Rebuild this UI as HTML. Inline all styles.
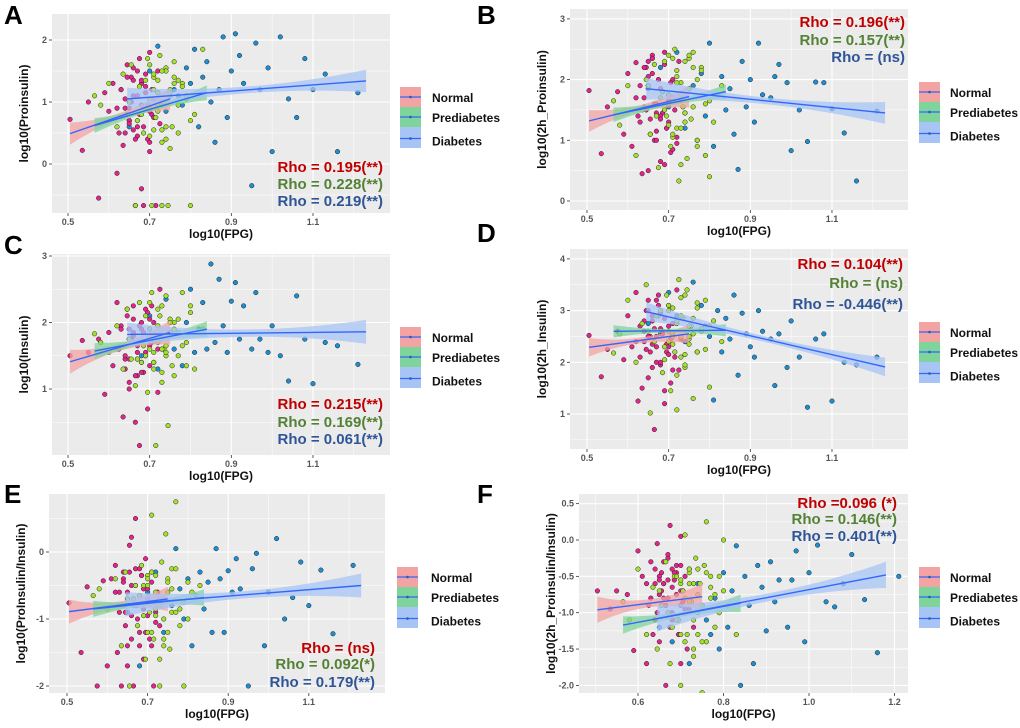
<!DOCTYPE html>
<html><head><meta charset="utf-8"><style>
html,body{margin:0;padding:0;background:#fff}
svg{display:block;font-family:"Liberation Sans",sans-serif}
</style></head><body>
<svg id="fig" width="1020" height="728" viewBox="0 0 1020 728"></svg>
<script>
// ---------- data ----------
const groups = ["Normal","Prediabetes","Diabetes"];
const xNormal = [0.505,0.535,0.55,0.575,0.59,0.60,0.61,0.62,0.625,0.63,0.635,0.64,0.645,0.65,0.655,0.66,0.665,0.67,0.675,0.68,0.685,0.69,0.695,0.70,0.705,0.71,0.715,0.72,0.725,0.73,0.66,0.67,0.68,0.69,0.70,0.65];
const xPre = [0.565,0.58,0.60,0.62,0.635,0.645,0.655,0.665,0.675,0.685,0.695,0.70,0.705,0.71,0.715,0.72,0.725,0.73,0.735,0.74,0.745,0.75,0.755,0.76,0.77,0.78,0.79,0.80,0.81,0.83,0.70,0.71,0.72,0.73,0.74,0.75];
const xDiab = [0.65,0.68,0.70,0.72,0.74,0.76,0.77,0.78,0.79,0.80,0.81,0.82,0.83,0.84,0.85,0.86,0.87,0.88,0.89,0.90,0.91,0.92,0.93,0.95,0.96,0.97,0.99,1.00,1.02,1.04,1.06,1.08,1.10,1.13,1.16,1.21];
const xNormal2 = [0.62,0.63,0.64,0.645,0.65,0.655,0.66,0.665,0.67,0.675,0.68,0.685,0.69,0.695,0.70,0.705,0.71,0.64,0.66,0.68,0.70,0.72,0.65,0.67];
const xPre2 = [0.65,0.67,0.69,0.70,0.71,0.72,0.73,0.74,0.75,0.76,0.77,0.78,0.68,0.70,0.72,0.74,0.76,0.79,0.80,0.71,0.73,0.75,0.69,0.77];

const yA_N=[0.72,0.22,1.0,-0.55,1.15,0.85,1.3,-0.15,0.5,1.2,0.3,0.9,1.6,0.7,1.4,1.1,-0.67,0.6,1.7,0.95,-0.67,1.25,0.4,1.8,0.8,1.05,-0.67,1.5,0.65,1.0,1.35,0.45,-0.4,1.15,0.2,0.9];
const yA_P=[1.1,0.95,1.3,0.6,1.45,0.8,1.6,-0.67,1.25,0.5,1.7,0.9,-0.67,1.4,0.75,1.15,1.75,0.35,1.0,1.55,-0.67,1.2,0.6,1.65,0.95,1.3,1.1,-0.67,0.8,1.85,1.05,0.55,1.35,-0.67,1.5,0.25];
const yA_D=[0.6,1.3,1.5,1.9,0.85,1.2,1.1,0.95,1.55,1.3,1.85,0.6,1.4,1.65,1.0,0.35,1.2,2.05,0.75,1.5,2.1,1.75,1.3,-0.35,1.95,1.2,1.55,0.2,2.05,1.05,0.75,1.7,1.2,1.45,0.2,1.15];
const yA_N2=[0.9,1.2,0.5,1.4,0.7,1.0,1.55,0.4,1.1,0.8,1.3,0.6,1.45,0.95,0.35,1.2,0.75,1.05,0.55,1.35,0.85,1.15,0.65,1.5];
const yA_P2=[1.0,0.7,1.35,0.45,1.2,0.85,1.5,0.6,1.1,1.4,0.5,1.25,0.8,1.6,0.95,0.4,1.3,1.05,0.7,1.45,0.55,1.15,0.9,1.35];
const yB_N=[1.82,0.78,1.55,1.8,1.1,2.1,0.9,2.28,1.4,1.9,0.45,1.7,2.2,0.5,1.35,2.4,1.0,1.6,2.0,0.65,1.45,2.45,1.2,1.75,0.8,2.0,1.5,0.95,2.3,1.65,2.35,1.15,1.85,0.6,1.3,2.05];
const yB_P=[1.65,1.25,1.9,0.75,1.5,2.0,1.1,2.25,0.55,1.8,1.4,2.4,0.9,1.7,2.5,1.2,0.33,1.95,1.55,2.3,0.7,1.85,1.35,2.45,1.0,2.2,1.6,0.4,1.3,1.9,1.75,1.05,2.15,0.6,1.45,2.35];
const yB_D=[1.85,2.2,1.55,2.45,1.2,1.9,1.0,2.1,1.4,2.6,0.9,1.75,2.05,1.5,1.85,1.1,0.52,2.3,1.55,2.0,1.3,2.6,1.75,1.7,2.05,2.25,1.95,0.83,1.5,0.98,1.96,1.95,1.52,1.12,0.33,1.48];
const yB_N2=[1.7,1.3,2.2,1.5,1.9,1.1,2.35,1.6,1.0,2.0,1.4,1.8,2.25,1.2,1.65,1.95,0.85,1.55,2.1,1.35,1.75,1.05,2.3,1.45];
const yB_P2=[1.9,1.4,2.3,1.6,1.1,2.05,1.75,1.3,2.4,1.55,0.9,2.15,1.7,1.25,1.95,1.45,2.2,0.75,1.65,2.35,1.2,1.85,1.5,2.0];
const yC_N=[1.5,1.73,1.55,1.75,0.92,1.85,1.35,2.3,1.6,1.95,0.58,1.45,2.2,1.0,1.7,2.05,0.5,1.55,0.15,1.9,1.25,2.2,0.7,1.65,2.25,1.4,1.8,0.95,2.5,1.6,1.85,1.2,2.0,1.5,1.75,1.1];
const yC_P=[1.83,1.7,1.55,1.95,1.3,2.2,1.45,1.05,2.3,1.65,0.95,1.9,2.45,1.4,0.15,1.75,2.1,1.25,1.6,2.4,0.45,1.85,1.35,2.0,1.5,2.45,1.7,2.25,1.3,1.9,1.8,1.55,2.2,1.1,1.65,2.05];
const yC_D=[1.75,1.5,2.1,1.3,2.35,1.6,1.85,1.35,2.0,2.5,1.55,1.9,2.3,1.6,2.88,1.7,2.65,1.95,1.55,2.32,2.6,1.75,2.25,1.6,2.45,1.75,1.55,1.95,1.5,1.12,2.4,1.75,1.08,1.7,1.65,1.37];
const yC_N2=[1.6,1.9,1.3,2.1,1.45,1.75,2.25,1.2,1.65,1.95,1.4,1.85,1.55,2.15,1.35,1.7,2.0,1.5,1.8,1.25,2.05,1.6,1.9,1.45];
const yC_P2=[1.75,1.45,2.1,1.6,1.3,1.95,2.25,1.5,1.85,1.2,2.05,1.65,1.4,2.3,1.7,1.55,1.9,1.35,2.15,1.8,1.6,2.0,1.5,1.85];
const yD_N=[2.52,1.72,2.25,2.6,2.05,2.9,2.3,3.35,1.25,2.7,1.5,2.4,3.0,1.7,2.2,2.8,0.7,2.5,3.3,1.95,2.6,1.2,2.35,3.1,1.6,2.75,2.1,3.4,1.85,2.45,2.9,2.0,2.65,1.45,2.3,3.2];
const yD_P=[2.18,2.55,3.2,2.0,2.75,3.5,1.02,2.4,2.9,1.8,3.3,2.6,1.45,3.05,2.2,1.08,3.6,2.5,2.85,1.9,3.4,2.35,2.7,1.3,3.15,2.6,2.25,1.52,2.8,2.4,3.0,2.55,1.75,3.25,2.15,2.7];
const yD_D=[2.75,2.55,3.35,2.9,2.4,3.55,2.2,3.1,2.7,2.5,1.27,3.0,2.2,2.85,2.45,3.3,1.75,2.95,2.55,2.3,2.1,3.0,2.6,2.45,1.55,2.55,1.9,2.8,2.1,1.13,2.45,2.55,1.25,2.0,1.95,2.1];
const yD_N2=[2.4,2.1,2.8,2.25,3.0,2.5,1.9,2.65,2.3,3.1,2.0,2.55,2.85,2.2,2.7,2.45,1.85,2.6,2.35,2.95,2.15,2.75,2.5,3.2];
const yD_P2=[2.6,2.9,2.3,3.1,2.5,2.75,2.1,3.3,2.45,2.85,2.2,2.65,3.0,2.4,2.8,1.95,2.55,3.2,2.7,2.35,2.9,2.5,2.05,3.05];
const yE_N=[-0.76,-1.5,-0.52,-2.0,-0.43,-1.7,-0.4,-0.2,-1.5,-0.6,-2.0,-0.3,-0.9,-1.4,0.1,-0.5,-2.0,0.5,-0.8,-1.2,-0.35,-1.6,-0.1,-0.7,-1.3,-0.45,-2.0,-0.9,-0.6,-1.1,0.22,-0.25,-1.4,-0.55,-0.95,-1.7];
const yE_P=[-0.65,-0.55,-0.85,-0.4,-1.4,-0.3,-2.0,-0.7,-1.1,-0.2,-1.6,-0.5,-0.9,0.55,-1.3,-0.35,-0.75,-2.0,-0.15,-1.0,0.27,-0.6,-1.45,-0.25,0.75,-0.85,-2.0,-0.45,-0.6,-0.5,-1.2,-0.3,-0.95,-1.6,-0.7,-0.4];
const yE_D=[-0.9,-1.7,-0.6,-0.3,-1.2,-0.8,0.05,-0.55,-1.0,-0.4,-1.4,-0.65,-0.3,-0.85,-0.45,-1.2,0.05,-0.4,-1.2,-0.28,-0.6,-0.1,-0.55,-2.0,-0.25,-0.02,-1.4,-0.6,0.2,-1.0,-0.68,-0.15,-0.8,-0.27,-1.22,-0.2];
const yE_N2=[-0.6,-0.9,-0.4,-1.1,-0.7,-0.3,-1.3,-0.8,-0.5,-1.0,-0.65,-0.35,-0.85,-1.2,-0.55,-0.75,-1.4,-0.45,-0.95,-0.25,-0.7,-1.05,-0.6,-0.8];
const yE_P2=[-0.7,-0.5,-0.95,-0.35,-1.2,-0.6,-0.8,-1.3,-0.45,-0.9,-0.25,-1.1,-0.65,-0.4,-0.85,-1.4,-0.55,-0.75,-1.0,-0.3,-0.7,-1.2,-0.5,-0.9];
const yF_N=[-0.7,-0.95,-0.7,-0.75,-1.52,-0.15,-0.5,-1.7,-0.9,-0.3,-1.3,-0.6,-0.05,-1.4,-0.45,-0.8,-2.0,-0.25,0.2,-1.1,-0.55,-0.35,-1.3,0.05,-0.7,-0.95,-1.5,-0.4,-0.85,-1.2,-0.6,-0.2,-1.0,-0.45,-1.7,-0.75];
const yF_P=[-0.85,-1.1,-0.4,-1.3,-0.65,-1.5,-0.9,-0.3,-1.7,-0.5,-1.1,-2.0,-0.7,0.07,-1.3,-0.45,-0.85,-1.6,-0.25,-1.0,-0.6,-1.4,-0.35,0.25,-0.8,-1.2,-0.5,0.0,-0.9,-1.3,-0.6,-1.0,-0.4,-1.5,-0.75,-2.1];
const yF_D=[-1.2,-1.4,-0.9,-1.7,-0.6,-1.1,-1.3,-0.8,-1.5,-0.45,-1.2,-0.7,-0.08,-2.0,-0.5,-0.9,-1.7,-0.35,-0.65,-1.25,-0.3,-0.85,-0.55,-1.2,-0.55,-0.15,-1.4,-0.45,-0.07,-0.85,-0.92,-0.6,-0.2,-0.82,-1.55,-0.5];
const yF_N2=[-0.6,-0.8,-0.4,-1.0,-0.5,-0.7,-0.3,-0.9,-0.55,-1.2,-0.65,-0.45,-0.75,-1.3,-0.35,-0.85,-0.5,-1.1,-0.6,-0.4,-0.7,-0.95,-0.55,-0.8];
const yF_P2=[-0.7,-1.0,-0.5,-1.3,-0.8,-0.6,-1.1,-0.4,-0.9,-1.4,-0.65,-0.75,-1.2,-0.55,-0.85,-1.3,-0.45,-1.0,-0.7,-1.4,-0.6,-0.9,-1.1,-0.5];

// fitted lines: [xStart, xEnd, yStart, yEnd] for Normal, Prediabetes, Diabetes
const fitA=[[0.505,0.75,0.49,1.05],[0.565,0.84,0.62,1.15],[0.645,1.23,1.05,1.34]];
const fitB=[[0.505,0.75,1.32,1.72],[0.565,0.84,1.42,1.80],[0.645,1.23,1.85,1.45]];
const fitC=[[0.505,0.75,1.41,1.85],[0.565,0.84,1.57,1.90],[0.645,1.23,1.82,1.86]];
const fitD=[[0.505,0.75,2.29,2.55],[0.565,0.84,2.60,2.62],[0.645,1.23,2.98,1.91]];
const fitE=[[0.505,0.75,-0.89,-0.70],[0.565,0.84,-0.85,-0.68],[0.645,1.23,-0.78,-0.50]];
const fitF=[[0.505,0.75,-0.96,-0.78],[0.565,0.84,-1.17,-0.87],[0.645,1.18,-1.08,-0.48]];
const bandHalf=[0.18,0.12,0.18];

const rhoA=["Rho = 0.195(**)","Rho = 0.228(**)","Rho = 0.219(**)"];
const rhoB=["Rho = 0.196(**)","Rho = 0.157(**)","Rho = (ns)"];
const rhoC=["Rho = 0.215(**)","Rho = 0.169(**)","Rho = 0.061(**)"];
const rhoD=["Rho = 0.104(**)","Rho = (ns)","Rho = -0.446(**)"];
const rhoE=["Rho = (ns)","Rho = 0.092(*)","Rho = 0.179(**)"];
const rhoF=["Rho =0.096 (*)","Rho = 0.146(**)","Rho = 0.401(**)"];

const xTicksStd=[0.5,0.7,0.9,1.1];
const xTicksF=[0.6,0.8,1.0,1.2];
const yTicksA=[0,1,2], yTicksB=[0,1,2,3], yTicksC=[1,2,3], yTicksD=[1,2,3,4], yTicksE=[-2,-1,0];
const yTicksF=[-2.0,-1.5,-1.0,-0.5,0.0,0.5];

// ---------- layout ----------
const ptColors=["#e8218c","#a4e22a","#1b8fd6"];
const bandColors=["#f4a3a3","#7fd49b","#a7c4f4"];
const rhoColors=["#c00000","#538135","#2f5597"];
const panels=[
 {id:"a",letter:"A",L:52,R:390,T:14,B:213,x0:0.5,xp:68,xs:408.3,y0:164,ys:62,xt:xTicksStd,yt:yTicksA,ylab:"log10(Proinsulin)",ys_:[yA_N,yA_P,yA_D],ys2:[yA_N2,yA_P2],fit:fitA,rho:rhoA,rhoX:383,rhoY:[167,184,201],leg:[400,87,432],let:[4,24]},
 {id:"b",letter:"B",L:570,R:908,T:9,B:210,x0:0.5,xp:587,xs:408.3,y0:201,ys:60.7,xt:xTicksStd,yt:yTicksB,ylab:"log10(2h_Proinsulin)",ys_:[yB_N,yB_P,yB_D],ys2:[yB_N2,yB_P2],fit:fitB,rho:rhoB,rhoX:905,rhoY:[22,40,57],leg:[919,82,950],let:[477,24]},
 {id:"c",letter:"C",L:52,R:390,T:254,B:455,x0:0.5,xp:68,xs:408.3,y0:455.5,ys:66.5,xt:xTicksStd,yt:yTicksC,ylab:"log10(Insulin)",ys_:[yC_N,yC_P,yC_D],ys2:[yC_N2,yC_P2],fit:fitC,rho:rhoC,rhoX:383,rhoY:[404,422,439],leg:[400,327,432],let:[4,254]},
 {id:"d",letter:"D",L:570,R:908,T:249,B:449,x0:0.5,xp:587,xs:408.3,y0:465.7,ys:51.7,xt:xTicksStd,yt:yTicksD,ylab:"log10(2h_Insulin)",ys_:[yD_N,yD_P,yD_D],ys2:[yD_N2,yD_P2],fit:fitD,rho:rhoD,rhoX:903,rhoY:[264,283,304],leg:[919,322,950],let:[477,242]},
 {id:"e",letter:"E",L:49,R:385,T:494,B:693,x0:0.5,xp:67,xs:403,y0:552,ys:67,xt:xTicksStd,yt:yTicksE,ylab:"log10(ProInsulin/Insulin)",ys_:[yE_N,yE_P,yE_D],ys2:[yE_N2,yE_P2],fit:fitE,rho:rhoE,rhoX:375,rhoY:[648,664,682],leg:[397,567,431],let:[4,503]},
 {id:"f",letter:"F",L:579,R:908,T:494,B:693,x0:0.6,xp:638,xs:427.5,y0:540,ys:72.7,xt:xTicksF,yt:yTicksF,ylab:"log10(2h_Proinsulin/Insulin)",ys_:[yF_N,yF_P,yF_D],ys2:[yF_N2,yF_P2],fit:fitF,rho:rhoF,rhoX:897,rhoY:[503,519,536],leg:[919,567,950],let:[477,503]}
];
const xsArr=[xNormal,xPre,xDiab];
const xsArr2=[xNormal2,xPre2];
const NS="http://www.w3.org/2000/svg";
const svg=document.getElementById("fig");
function mk(tag,attrs,parent){const e=document.createElementNS(NS,tag);for(const k in attrs)e.setAttribute(k,attrs[k]);(parent||svg).appendChild(e);return e;}

panels.forEach(p=>{
  const sx=v=>p.xp+(v-p.x0)*p.xs;
  const sy=v=>p.y0-v*p.ys;
  const g=mk("g",{});
  
  
  const defs=mk("defs",{},g);
  const cp=mk("clipPath",{id:"clip-"+p.id},defs);
  mk("rect",{x:p.L,y:p.T,width:p.R-p.L,height:p.B-p.T},cp);
  const bg=mk("rect",{x:p.L,y:p.T,width:p.R-p.L,height:p.B-p.T,fill:"#ebebeb"},g);
  
  
  const xstep=p.xt[1]-p.xt[0], ystep=p.yt[1]-p.yt[0];
  for(let v=p.xt[0]-xstep;v<=p.xt[p.xt.length-1]+xstep+1e-9;v+=xstep/2){
    const X=sx(v); if(X<p.L||X>p.R)continue;
    const major=Math.abs(((v-p.xt[0])/xstep)-Math.round((v-p.xt[0])/xstep))<1e-6;
    mk("line",{x1:X,x2:X,y1:p.T,y2:p.B,stroke:"#fff","stroke-width":major?1.1:0.5},g);
  }
  for(let v=p.yt[0]-ystep;v<=p.yt[p.yt.length-1]+ystep+1e-9;v+=ystep/2){
    const Y=sy(v); if(Y<p.T||Y>p.B)continue;
    const major=Math.abs(((v-p.yt[0])/ystep)-Math.round((v-p.yt[0])/ystep))<1e-6;
    mk("line",{x1:p.L,x2:p.R,y1:Y,y2:Y,stroke:"#fff","stroke-width":major?1.1:0.5},g);
  }
  p.xt.forEach(v=>{
    const X=sx(v);
    mk("line",{x1:X,x2:X,y1:p.B,y2:p.B+3,stroke:"#333","stroke-width":0.8},g);
    const t=mk("text",{x:X,y:p.B+12,"font-size":9,"font-weight":"bold",fill:"#555","text-anchor":"middle"},g);
    t.textContent=v.toFixed(1);
    
    
  });
  p.yt.forEach(v=>{
    const Y=sy(v);
    mk("line",{x1:p.L-3,x2:p.L,y1:Y,y2:Y,stroke:"#333","stroke-width":0.8},g);
    const t=mk("text",{x:p.L-5,y:Y+3,"font-size":9,"font-weight":"bold",fill:"#555","text-anchor":"end"},g);
    t.textContent=p.id==="f"?v.toFixed(1):String(v);
    
    
  });
  const xl=mk("text",{x:(p.L+p.R)/2,y:p.B+25,"font-size":12,"font-weight":"bold",fill:"#111","text-anchor":"middle"},g);
  xl.textContent="log10(FPG)";
  
  
  const yx=p.L-24,yy=(p.T+p.B)/2;
  const yl=mk("text",{x:yx,y:yy,"font-size":12,"font-weight":"bold",fill:"#111","text-anchor":"middle",transform:`rotate(-90 ${yx} ${yy})`},g);
  yl.textContent=p.ylab;
  
  
  const dl=mk("g",{"clip-path":`url(#clip-${p.id})`},g);
  [2,0,1].forEach(gi=>{
    const xs=xsArr[gi], ys=p.ys_[gi];
    xs.forEach((xv,i)=>{
      const c=mk("circle",{cx:sx(xv),cy:sy(ys[i]),r:2.3,fill:ptColors[gi],stroke:"#222","stroke-width":0.5},dl);
      
      
    });
    if(gi<2){
      const xs2=xsArr2[gi], ys2=p.ys2[gi];
      xs2.forEach((xv,i)=>{
        const c=mk("circle",{cx:sx(xv),cy:sy(ys2[i]),r:2.3,fill:ptColors[gi],stroke:"#222","stroke-width":0.5},dl);
        
        
      });
    }
  });
  [0,1,2].forEach(gi=>{
    const f=p.fit[gi], pts=[], bot=[];
    for(let k=0;k<=20;k++){
      const t=k/20, xv=f[0]+(f[1]-f[0])*t, yv=f[2]+(f[3]-f[2])*t;
      const hw=bandHalf[gi]*(0.3+0.7*Math.pow((t-0.5)*2,2));
      pts.push(sx(xv)+","+sy(yv+hw)); bot.unshift(sx(xv)+","+sy(yv-hw));
    }
    const band=mk("polygon",{points:pts.concat(bot).join(" "),fill:bandColors[gi],"fill-opacity":0.75},dl);
    
    
  });
  [0,1,2].forEach(gi=>{
    const f=p.fit[gi];
    const ln=mk("line",{x1:sx(f[0]),y1:sy(f[2]),x2:sx(f[1]),y2:sy(f[3]),stroke:"#3366ff","stroke-width":1.4},dl);
    
    
  });
  p.rho.forEach((s,i)=>{
    const t=mk("text",{x:p.rhoX,y:p.rhoY[i]+5,"font-size":15,"font-weight":"bold",fill:rhoColors[i],"text-anchor":"end"},g);
    t.textContent=s;
    
    
  });
  const [lx,ly,tx]=p.leg;
  const heights=[20,20,21];
  let cy=ly;
  groups.forEach((gname,i)=>{
    const r=mk("rect",{x:lx,y:cy,width:21,height:heights[i],fill:bandColors[i]},g);
    
    
    const off=i===2?1:0;
    mk("line",{x1:lx,x2:lx+21,y1:cy+heights[i]/2+off,y2:cy+heights[i]/2+off,stroke:"#3366ff","stroke-width":1.3},g);
    mk("circle",{cx:lx+10.5,cy:cy+heights[i]/2+off,r:1.3,fill:"#1f5fb0"},g);
    const t=mk("text",{x:tx,y:cy+heights[i]/2+5+(i===2?3:0),"font-size":12,"font-weight":"bold",fill:"#111"},g);
    t.textContent=gname;
    
    
    cy+=heights[i];
  });
  const lt=mk("text",{x:p.let[0],y:p.let[1],"font-size":26,"font-weight":"bold",fill:"#000"},g);
  lt.textContent=p.letter;
  
  
});
</script>
</body></html>
